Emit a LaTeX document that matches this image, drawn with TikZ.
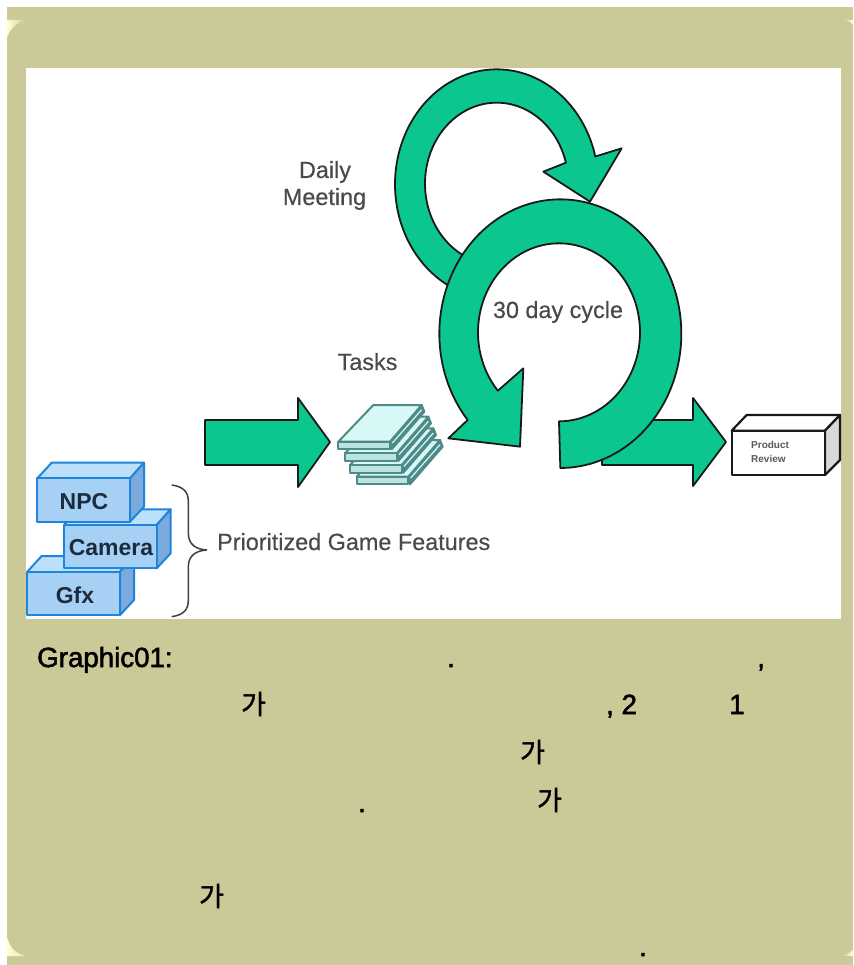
\documentclass[tikz,border=0pt]{standalone}
\usepackage{fontspec}
\setmainfont{Liberation Sans}
\newfontfamily\capfont[FakeBold=2.0]{Liberation Sans}
\newfontfamily\lblfont[FakeBold=0.4]{Liberation Sans}
\newfontfamily\cjkfont[FakeBold=1.4]{Noto Sans CJK KR}
\definecolor{panel}{HTML}{CCC999}
\definecolor{cream}{HTML}{FFFFD4}
\definecolor{grn}{HTML}{0BC78F}
\definecolor{lbl}{HTML}{4A4A4A}
\definecolor{blkfront}{HTML}{A6D0F4}
\definecolor{blktop}{HTML}{BCE0FA}
\definecolor{blkside}{HTML}{7DAADD}
\definecolor{blkline}{HTML}{1F84DC}
\definecolor{plateline}{HTML}{4E8A88}
\definecolor{platefill}{HTML}{D8F8F8}
\definecolor{blktext}{HTML}{1C2C3C}
\tikzset{
  greenshape/.style={fill=grn,draw=black!90,line width=1.8pt,line join=round},
  diagramlabel/.style={inner sep=0pt,font=\fontsize{23.4}{23.4}\selectfont\lblfont,text=lbl,anchor=base},
  blocklabel/.style={inner sep=0pt,font=\fontsize{23}{23}\selectfont\bfseries,text=blktext,anchor=base},
  caption/.style={inner sep=0pt,font=\fontsize{27.7}{27.7}\selectfont\capfont,text=black,anchor=base west},
  hangul/.style={inner sep=0pt,font=\fontsize{27}{27}\selectfont\cjkfont,text=black,anchor=center},
  blockline/.style={draw=blkline,line width=2pt,line join=round},
  plateedge/.style={draw=plateline,line width=2pt,line join=round},
  boxline/.style={draw=black!90,line width=2.2pt,line join=round}
}
\newcommand{\blockshape}[2]{%
  \begin{scope}[shift={(#1,#2)}]
    \fill[blktop] (0,0) -- (43,-47) -- (320,-47) -- (278,0) -- cycle;
    \draw[blockline] (0,0) -- (43,-47) -- (320,-47) -- (278,0);
    \filldraw[blockline,fill=blkside] (278,0) -- (320,-47) -- (320,85) -- (278,130) -- cycle;
    \filldraw[blockline,fill=blkfront] (0,0) rectangle (278,130);
  \end{scope}}
\newcommand{\plateshape}[2]{%
  \begin{scope}[shift={(#1,#2)}]
    \filldraw[plateedge,fill=plateline] (155,110) -- (250,0) -- (258,20) -- (160,133) -- cycle;
    \draw[draw=platefill,line width=1.2pt] (162,114) -- (250,14);
    \filldraw[plateedge,fill=platefill] (0,110) -- (105,0) -- (250,0) -- (155,110) -- cycle;
    \filldraw[plateedge,fill=platefill!80!plateline] (0,110) rectangle (155,133);
  \end{scope}}
\begin{document}
\begin{tikzpicture}[x=1pt,y=-1pt]
\useasboundingbox (0,0) rectangle (853,965);
\fill[white] (0,0) rectangle (853,965);
\fill[panel] (7,7) rectangle (853,965);
% panel corners
\shade[left color=cream,right color=panel] (7,20) -- (26,20) .. controls (16,23) and (9,30) .. (7,38) -- cycle;
\shade[left color=panel,right color=cream] (842,20) .. controls (847,20) and (851,22) .. (853,25) -- (853,20) -- cycle;
\shade[left color=cream,right color=cream!55!panel] (7,937) .. controls (10,948) and (16,954) .. (26,956) -- (7,956) -- cycle;
\shade[left color=panel,right color=cream] (841,956) .. controls (846,955) and (850,953) .. (853,950) -- (853,956) -- cycle;
% picture area
\fill[white] (26,68) rectangle (841,619);

% arrows
\draw[greenshape] (205,420) -- (298,420) -- (298,398) -- (330,442) -- (298,487) -- (298,465) -- (205,465) -- cycle;
\draw[greenshape] (602,420) -- (693,420) -- (693,398) -- (726,442) -- (693,486) -- (693,465) -- (602,465) -- cycle;

\begin{scope}[shift={(380,60)},x=0.33333pt,y=-0.33333pt]
  \draw[greenshape] plot[domain=-245:-14,samples=70,smooth] ({350+305*cos(\x)},{373+345*sin(\x)})
    -- (725,265) -- (630,425) -- (490,335)
    -- plot[domain=-15:-245,samples=70,smooth] ({350+215*cos(\x)},{371+243*sin(\x)}) -- cycle;
  \draw[greenshape] plot[domain=90:-220,samples=90,smooth] ({541+363*cos(\x)},{821+403*sin(\x)})
    -- (205,1135) -- (420,1160) -- (430,925)
    -- plot[domain=-221:90,samples=90,smooth] ({537+243*cos(\x)},{817+267*sin(\x)}) -- cycle;
\end{scope}

% task stack and blocks
\begin{scope}[shift={(20,390)},x=0.33333pt,y=-0.33333pt]
  \plateshape{1010}{150}
  \plateshape{990}{115}
  \plateshape{975}{80}
  \plateshape{955}{45}
  \blockshape{22}{545}
  \blockshape{132}{405}
  \blockshape{52}{265}
  \draw[black!75,line width=1.5pt,line join=round] (455,285) .. controls (490,290) and (505,305) .. (505,335) -- (505,430) .. controls (505,465) and (530,478) .. (560,480) .. controls (530,482) and (505,495) .. (505,530) -- (505,630) .. controls (505,660) and (490,675) .. (455,680);
\end{scope}

% product review box
\begin{scope}[shift={(590,380)},x=0.33333pt,y=-0.33333pt]
  \filldraw[fill=white,boxline] (425,152) -- (470,105) -- (750,105) -- (705,152) -- cycle;
  \filldraw[fill=black!15,boxline] (705,152) -- (750,105) -- (750,240) -- (705,285) -- cycle;
  \filldraw[fill=white,boxline] (425,152) rectangle (705,285);
\end{scope}

% labels
\node[diagramlabel] (daily) at (325,178) {Daily};
\node[diagramlabel] (meeting) at (324.5,205) {Meeting};
\node[diagramlabel] (cycle) at (558,318) {30 day cycle};
\node[diagramlabel] (tasks) at (367.5,370) {Tasks};
\node[diagramlabel,anchor=base west] (features) at (217,550) {Prioritized Game Features};
\node[blocklabel] (npc) at (84,509) {NPC};
\node[blocklabel] (camera) at (111,555) {Camera};
\node[blocklabel] (gfx) at (75,603) {Gfx};
\node[inner sep=0pt,anchor=base west,font=\fontsize{10}{10}\selectfont\bfseries,text=black!65] (product) at (751,448) {Product};
\node[inner sep=0pt,anchor=base west,font=\fontsize{10}{10}\selectfont\bfseries,text=black!65] (review) at (751,462) {Review};

% caption
\node[caption] (graphic) at (37,667) {Graphic01:};
\node[caption] (dota) at (447,667) {.};
\node[caption] (comma) at (757,667) {,};
\node[hangul] (ga1) at (253.5,704) {가};
\node[caption] (two) at (606,714) {, 2};
\node[caption] (one) at (729,714) {1};
\node[hangul] (ga2) at (532.5,752) {가};
\node[caption] (dotb) at (358,812) {.};
\node[hangul] (ga3) at (549.5,800) {가};
\node[hangul] (ga4) at (211.5,896) {가};
\node[caption] (dotc) at (639,956) {.};
\end{tikzpicture}
\end{document}
